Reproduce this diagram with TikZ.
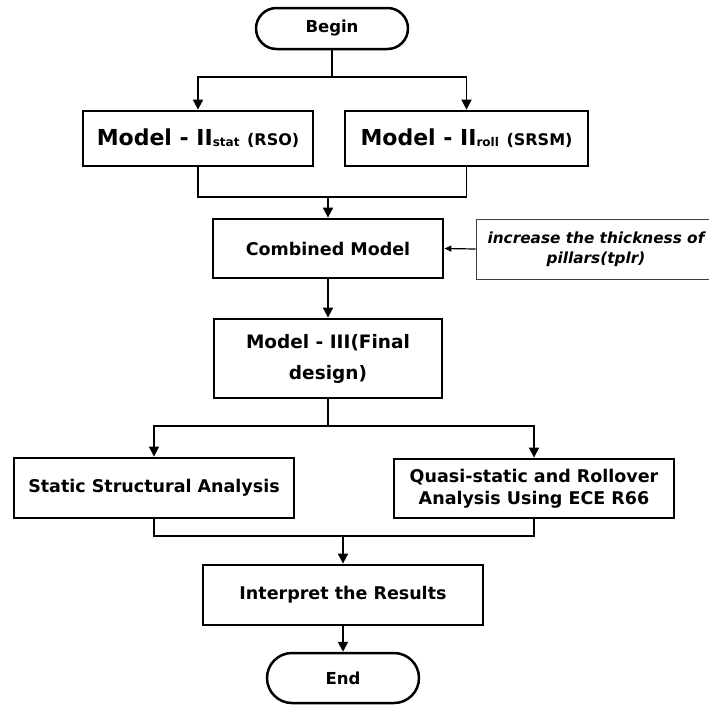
\documentclass[tikz,border=0pt]{standalone}
\usepackage{fontspec}
\setmainfont{DejaVu Sans}
\usetikzlibrary{shapes.misc,arrows.meta}
\tikzset{
  box/.style={draw, line width=2.8pt, rectangle, align=center, font=\bfseries\fontsize{17.5}{22}\selectfont, inner sep=0pt},
  term/.style={draw, line width=2.5pt, rounded rectangle, font=\bfseries\fontsize{16.5}{20}\selectfont, inner sep=0pt},
  note/.style={draw=black!75, line width=0.9pt, rectangle, align=center, font=\bfseries\itshape\fontsize{15.3}{20}\selectfont, inner sep=0pt},
  flow/.style={line width=1.8pt},
  thin flow/.style={line width=1.2pt},
  tip/.style={-{Triangle[length=10pt,width=10pt]}},
}
\begin{document}
\begin{tikzpicture}[x=1pt,y=-1pt]
\useasboundingbox (0,0) rectangle (709,705);
\clip (0,0) rectangle (709,705);
% terminals and process boxes
\node[term, minimum width=152pt, minimum height=41pt] (begin) at (332,28.5) {Begin};
\node[box, minimum width=230pt, minimum height=55pt] (m2s) at (198,138.5)
  {\fontsize{22}{26}\selectfont Model - II\raisebox{-1pt}{\fontsize{12}{14}\selectfont stat} \fontsize{16}{20}\selectfont(RSO)};
\node[box, minimum width=243pt, minimum height=55pt] (m2r) at (466.5,138.5)
  {\fontsize{22}{26}\selectfont Model - II\raisebox{-1pt}{\fontsize{12}{14}\selectfont roll} \fontsize{16}{20}\selectfont(SRSM)};
\node[box, minimum width=230pt, minimum height=59pt] (comb) at (328,248.5) {Combined Model};
\node[note, minimum width=240pt, minimum height=60pt] (inc) at (596,249)
  {increase the thickness of\\pillars(tplr)};
\node[box, minimum width=228pt, minimum height=79pt, font=\bfseries\fontsize{18.5}{31}\selectfont] (m3) at (328,358.5)
  {Model - III(Final\\design)};
\node[box, minimum width=280pt, minimum height=60pt] (stat) at (154,488) {Static Structural Analysis};
\node[box, minimum width=280pt, minimum height=59pt] (quasi) at (534,488.5)
  {Quasi-static and Rollover\\Analysis Using ECE R66};
\node[box, minimum width=280pt, minimum height=60pt] (interp) at (343,595) {Interpret the Results};
\node[term, minimum width=152pt, minimum height=50pt] (end) at (343,678) {End};
% junction points
\coordinate (j1) at (332,77);
\coordinate (j2) at (328,197);
\coordinate (j3) at (328,426);
\coordinate (j4) at (343,536);
% connectors
\draw[flow] (begin.south) -- (j1);
\draw[flow,tip] (j1) -| (m2s.north);
\draw[flow,tip] (j1) -| (m2r.north);
\draw[flow] (m2s.south) |- (j2);
\draw[flow] (m2r.south) |- (j2);
\draw[flow,tip] (j2) -- (comb.north);
\draw[thin flow,-{Triangle[length=7pt,width=6pt]}] (inc.west) -- (comb.east);
\draw[flow,tip] (comb.south) -- (m3.north);
\draw[thin flow] (m3.south) -- (j3);
\draw[thin flow,tip] (j3) -| (stat.north);
\draw[thin flow,tip] (j3) -| (quasi.north);
\draw[thin flow] (stat.south) |- (j4);
\draw[thin flow] (quasi.south) |- (j4);
\draw[flow,tip] (j4) -- (interp.north);
\draw[flow,tip] (interp.south) -- (end.north);
\end{tikzpicture}
\end{document}
